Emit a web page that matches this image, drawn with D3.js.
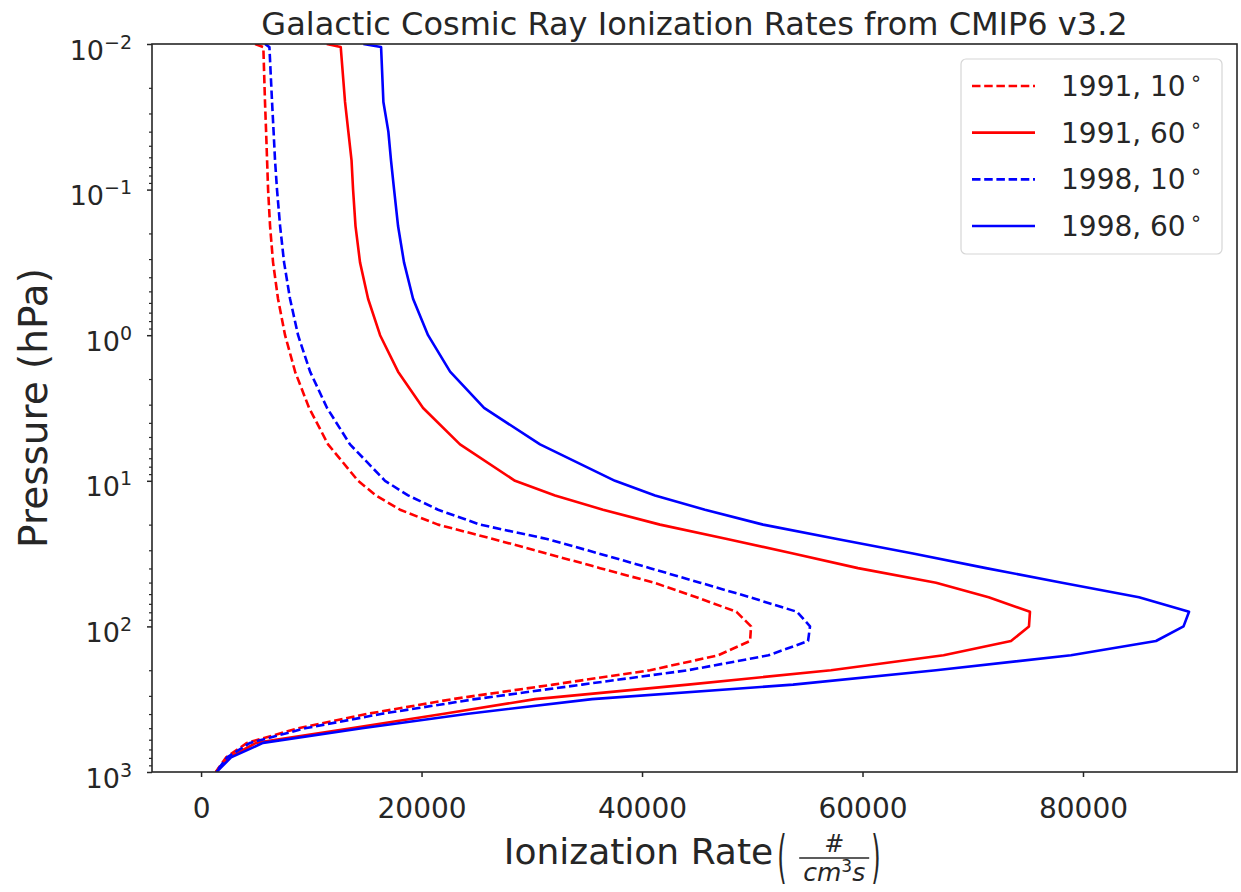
<!DOCTYPE html>
<html>
<head>
<meta charset="utf-8">
<script src="https://cdn.jsdelivr.net/npm/d3@7"></script>
<style>
  html, body { margin: 0; padding: 0; background: #ffffff; }
  svg { display: block; font-family: "DejaVu Sans", sans-serif; }
</style>
</head>
<body>
<svg id="chart" width="1241" height="892"></svg>
<script>
// Pressure levels (hPa), top of the profile to the surface
const pressure = [0.01, 0.0105, 0.025, 0.04, 0.063, 0.1, 0.178, 0.316, 0.562, 1,
  1.78, 3.16, 5.62, 10, 12.6, 15.8, 20, 25.1, 31.6, 39.8, 50.1, 63.1, 79.4, 100,
  126, 158, 200, 251, 316, 398, 501, 631, 794, 1000];

// Ionization rates (# cm^-3 s^-1) on those levels
const rate1991_10 = [4900, 5650, 5800, 5900, 5990, 6080, 6260, 6530, 6980, 7620,
  8530, 9800, 11520, 14240, 15870, 18050, 21500, 26490, 31380, 36190, 41090, 44940,
  48570, 49890, 49800, 46890, 40730, 31930, 22770, 15150, 8800, 4170, 2270, 1330];
const rate1991_60 = [11400, 12670, 13060, 13360, 13650, 13790, 14010, 14420, 15150, 16240,
  17870, 20140, 23490, 28480, 32110, 36460, 41630, 47710, 53700, 59590, 66670, 71440,
  75190, 75100, 73470, 67350, 57140, 44170, 30300, 22040, 13610, 4990, 2540, 1350];
const rate1998_10 = [5800, 6200, 6440, 6580, 6710, 6890, 7170, 7530, 8070, 8800,
  9890, 11430, 13510, 16690, 18780, 21500, 25310, 31380, 36100, 40730, 45260, 49800,
  54060, 55240, 55060, 51470, 44170, 34560, 24850, 16420, 9430, 4440, 2360, 1350];
const rate1998_60 = [14720, 16330, 16540, 16990, 17230, 17510, 17870, 18410, 19230, 20590,
  22590, 25670, 30750, 37550, 41180, 45710, 50980, 57690, 64580, 71200, 78100, 85080,
  89620, 89120, 86620, 78910, 66670, 53700, 35470, 24220, 14600, 5620, 2720, 1400];

const seriesNames = ["1991, 10", "1991, 60", "1998, 10", "1998, 60"];
const seriesColors = ["#ff0000", "#ff0000", "#0000ff", "#0000ff"];
const seriesDashed = [true, false, true, false];
const seriesValues = [rate1991_10, rate1991_60, rate1998_10, rate1998_60];

const xTicks = [0, 20000, 40000, 60000, 80000];
const yExponents = [-2, -1, 0, 1, 2, 3];

const plot = { left: 152, right: 1237, top: 44, bottom: 772 };
const ink = "#262626";

const svg = d3.select("#chart");

const x = d3.scaleLinear().domain([-4450, 93970]).range([plot.left, plot.right]);
const y = d3.scaleLog().domain([0.01, 1000]).range([plot.top, plot.bottom]);

svg.append("defs").append("clipPath").attr("id", "plotClip")
  .append("rect")
  .attr("x", plot.left).attr("y", plot.top)
  .attr("width", plot.right - plot.left).attr("height", plot.bottom - plot.top);

// profiles
const line = d3.line().x(d => x(d.v)).y(d => y(d.p));
const gLines = svg.append("g").attr("clip-path", "url(#plotClip)");
seriesValues.forEach((vals, i) => {
  const pts = vals.map((v, k) => ({ v: v, p: pressure[k] }));
  gLines.append("path")
    .datum(pts)
    .attr("d", line)
    .attr("fill", "none")
    .attr("stroke", seriesColors[i])
    .attr("stroke-width", 2.6)
    .attr("stroke-linejoin", "round")
    .attr("stroke-dasharray", seriesDashed[i] ? "8.5,3.7" : null);
});

// x axis
const xAxis = d3.axisBottom(x).tickValues(xTicks).tickFormat(d3.format("d"))
  .tickSize(5).tickPadding(21);
const gx = svg.append("g").attr("transform", `translate(0,${plot.bottom})`).call(xAxis);
gx.select(".domain").remove();
gx.selectAll(".tick line").attr("stroke", ink).attr("stroke-width", 1.5);
gx.selectAll(".tick text").attr("fill", ink).style("font-size", "28px")
  .style("font-family", "DejaVu Sans");

// y axis: major and minor ticks
const majors = yExponents.map(e => Math.pow(10, e));
const minors = [];
for (let e = -2; e < 3; e++) for (let m = 2; m <= 9; m++) minors.push(m * Math.pow(10, e));

const gyMinor = svg.append("g").attr("transform", `translate(${plot.left},0)`)
  .call(d3.axisLeft(y).tickValues(minors).tickFormat("").tickSize(3));
gyMinor.select(".domain").remove();
gyMinor.selectAll(".tick line").attr("stroke", ink).attr("stroke-width", 1.2);

const gy = svg.append("g").attr("transform", `translate(${plot.left},0)`)
  .call(d3.axisLeft(y).tickValues(majors).tickFormat("").tickSize(5));
gy.select(".domain").remove();
gy.selectAll(".tick line").attr("stroke", ink).attr("stroke-width", 1.5);
gy.selectAll(".tick").each(function (d, i) {
  const e = yExponents[i];
  const t = d3.select(this).append("text")
    .attr("x", -20).attr("y", 15)
    .attr("text-anchor", "end")
    .attr("fill", ink)
    .style("font-size", "27px")
    .style("font-family", "DejaVu Sans");
  t.append("tspan").text("10");
  t.append("tspan").attr("dy", -11).style("font-size", "19px")
    .text(e < 0 ? "\u2212" + Math.abs(e) : String(e));
});

// frame
svg.append("rect")
  .attr("x", plot.left).attr("y", plot.top)
  .attr("width", plot.right - plot.left).attr("height", plot.bottom - plot.top)
  .attr("fill", "none").attr("stroke", ink).attr("stroke-width", 1.6);

// title
svg.append("text")
  .attr("x", (plot.left + plot.right) / 2).attr("y", 35)
  .attr("text-anchor", "middle").attr("fill", ink)
  .style("font-size", "32px")
  .text("Galactic Cosmic Ray Ionization Rates from CMIP6 v3.2");

// y label
svg.append("text")
  .attr("transform", `translate(47,${(plot.top + plot.bottom) / 2}) rotate(-90)`)
  .attr("text-anchor", "middle").attr("fill", ink)
  .style("font-size", "39px")
  .text("Pressure (hPa)");

// x label with the fractional unit in parentheses
const baseY = 864;
const xl = svg.append("g");
const xlText = xl.append("text")
  .attr("x", 0).attr("y", baseY).attr("fill", ink)
  .style("font-size", "36px")
  .text("Ionization Rate");
const labelW = xlText.node().getComputedTextLength();
const parenGap = 4, fracGap = 22, fracW = 70, closeGap = 2, parenW = 14;
const totalW = labelW + parenGap + fracGap + fracW + closeGap + parenW;
const x0 = (plot.left + plot.right) / 2 - totalW / 2;
xlText.attr("x", x0);
const pL = x0 + labelW + parenGap;
const parenBase = 876;
const parenStretch = 2.35;
xl.append("text")
  .attr("transform", `translate(${pL},${parenBase}) scale(1,${parenStretch})`)
  .attr("fill", ink).style("font-size", "24px").text("(");
const fx = pL + fracGap;
const barY = 858;
xl.append("text")
  .attr("x", fx + fracW / 2).attr("y", barY - 6).attr("text-anchor", "middle")
  .attr("fill", ink).style("font-size", "24px").text("#");
xl.append("line")
  .attr("x1", fx).attr("x2", fx + fracW).attr("y1", barY).attr("y2", barY)
  .attr("stroke", ink).attr("stroke-width", 1.5);
const den = xl.append("text")
  .attr("x", fx + fracW / 2).attr("y", barY + 23).attr("text-anchor", "middle")
  .attr("fill", ink).style("font-size", "25px").style("font-style", "italic");
den.append("tspan").text("cm");
den.append("tspan").attr("dy", -9).style("font-size", "17px").style("font-style", "normal").text("3");
den.append("tspan").attr("dy", 9).text("s");
xl.append("text")
  .attr("transform", `translate(${fx + fracW + closeGap},${parenBase}) scale(1,${parenStretch})`)
  .attr("fill", ink).style("font-size", "24px").text(")");

// legend
const lg = svg.append("g");
lg.append("rect")
  .attr("x", 961).attr("y", 59).attr("width", 261).attr("height", 195)
  .attr("rx", 5).attr("fill", "#ffffff").attr("fill-opacity", 0.8)
  .attr("stroke", "#d6d6d6").attr("stroke-width", 1.2);
const rowY = d3.scaleLinear().domain([0, 3]).range([86, 226]);
seriesNames.forEach((name, i) => {
  const ry = rowY(i);
  lg.append("line")
    .attr("x1", 972).attr("x2", 1035).attr("y1", ry).attr("y2", ry)
    .attr("stroke", seriesColors[i]).attr("stroke-width", 2.6)
    .attr("stroke-dasharray", seriesDashed[i] ? "8.5,3.7" : null);
  const t = lg.append("text").attr("x", 1061).attr("y", ry + 10)
    .attr("fill", ink).style("font-size", "28px");
  t.append("tspan").text(name);
  t.append("tspan").attr("dx", 4).attr("dy", -11).style("font-size", "20px").text("\u2218");
});
</script>
</body>
</html>
